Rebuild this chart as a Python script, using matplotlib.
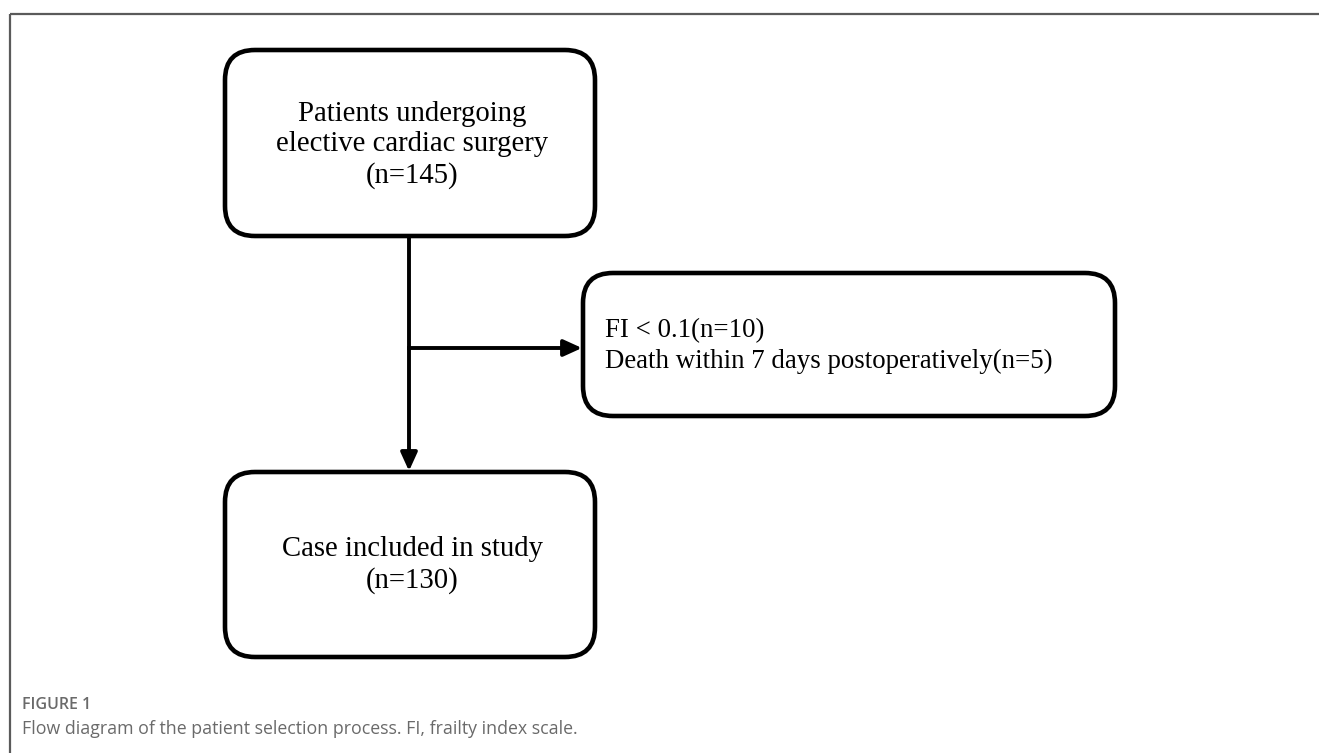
import matplotlib
matplotlib.use("Agg")
import matplotlib.pyplot as plt
from matplotlib.patches import FancyBboxPatch

# ---- data ----
box_titles = ["Patients undergoing\nelective cardiac surgery", "Case included in study"]
box_counts = [145, 130]
excl_labels = ["FI < 0.1", "Death within 7 days postoperatively"]
excl_counts = [10, 5]
caption_head = "FIGURE 1"
caption_text = "Flow diagram of the patient selection process. FI, frailty index scale."

W, H = 1319, 753
fig = plt.figure(figsize=(W / 100, H / 100), dpi=100)
ax = fig.add_axes([0, 0, 1, 1])
ax.set_xlim(0, W)
ax.set_ylim(H, 0)
ax.axis("off")

serif = ["Liberation Serif", "DejaVu Serif"]
lw_box = 3.3

def rbox(x0, y0, x1, y1):
    r = 30
    p = FancyBboxPatch((x0 + r, y0 + r), (x1 - x0) - 2 * r, (y1 - y0) - 2 * r,
                       boxstyle=f"round,pad={r},rounding_size={r}",
                       fc="white", ec="black", lw=lw_box, zorder=3)
    ax.add_patch(p)

# frame lines
ax.plot([10, W], [14, 14], color="#5a5a5a", lw=1.6, solid_capstyle="butt")
ax.plot([10, 10], [14, H], color="#5a5a5a", lw=1.6, solid_capstyle="butt")

# boxes
b1 = (225, 50, 595, 236)
b2 = (583, 273, 1115, 416)
b3 = (225, 472, 595, 657)
for b in (b1, b2, b3):
    rbox(*b)

cx = 409
arrow_kw = dict(arrowstyle="-|>,head_length=1.1,head_width=0.5",
                color="black", lw=2.8, shrinkA=0, shrinkB=0)
# vertical arrow
ax.plot([cx, cx], [b1[3], b3[1] - 14], color="black", lw=2.8, zorder=2)
ax.annotate("", xy=(cx, b3[1] - 1), xytext=(cx, b3[1] - 20),
            arrowprops=arrow_kw, zorder=4)
# horizontal arrow
hy = 348
ax.plot([cx, b2[0] - 14], [hy, hy], color="black", lw=2.8, zorder=2)
ax.annotate("", xy=(b2[0] - 1, hy), xytext=(b2[0] - 20, hy),
            arrowprops=arrow_kw, zorder=4)

# texts
t1 = box_titles[0] + f"\n(n={box_counts[0]})"
ax.text((b1[0] + b1[2]) / 2 + 2, 145, t1, ha="center", va="center", fontsize=20.7,
        family=serif, linespacing=1.23, zorder=5)
t3 = box_titles[1] + f"\n(n={box_counts[1]})"
ax.text((b3[0] + b3[2]) / 2 + 2, 565, t3, ha="center", va="center", fontsize=20.7,
        family=serif, linespacing=1.23, zorder=5)
t2 = "\n".join(f"{l}(n={c})" for l, c in zip(excl_labels, excl_counts))
ax.text(605, 346, t2, ha="left", va="center", fontsize=19.4,
        family=serif, linespacing=1.32, zorder=5)

# caption
ax.text(22, 705, caption_head, ha="left", va="center", fontsize=11.5,
        family=["Open Sans", "DejaVu Sans"], fontweight="semibold", color="#6a6a6a")
ax.text(22, 729, caption_text, ha="left", va="center", fontsize=12.8,
        family=["Open Sans", "DejaVu Sans"], color="#6a6a6a")

fig.savefig("out.png", dpi=100)
